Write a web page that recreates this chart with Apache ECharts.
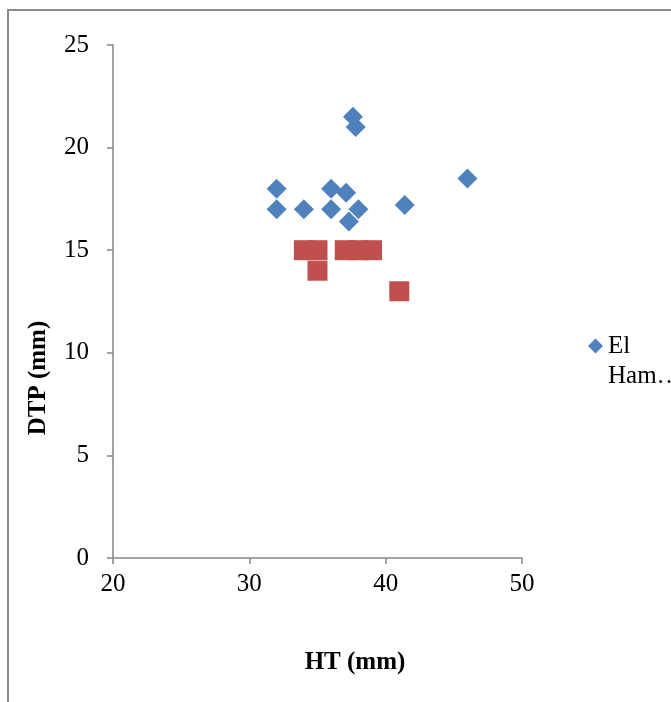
<!DOCTYPE html>
<html>
<head>
<meta charset="utf-8">
<script src="https://cdn.jsdelivr.net/npm/echarts@6/dist/echarts.min.js"></script>
<style>
html,body{margin:0;padding:0;background:#fff;overflow:hidden;}
#frame{position:absolute;left:7px;top:9px;width:700px;height:720px;border-left:2px solid #8c8c8c;border-top:2px solid #8c8c8c;}
#chart{position:absolute;left:0;top:0;width:671px;height:702px;}
</style>
</head>
<body>
<div id="frame"></div>
<div id="chart"></div>
<script>
const xTicks = [20, 30, 40, 50];
const yTicks = [0, 5, 10, 15, 20, 25];
const blueName = "El\nHam…";
const blueHT  = [32, 32, 34, 36, 36, 37.1, 38, 37.3, 37.6, 37.8, 41.4, 46];
const blueDTP = [18, 17, 17, 18, 17, 17.8, 17, 16.4, 21.5, 21, 17.2, 18.5];
const redName = "Series2";
const redHT  = [34, 35, 35, 37, 38, 39, 41];
const redDTP = [15, 15, 14, 15, 15, 15, 13];

const blueData = blueHT.map((v, i) => [v, blueDTP[i]]);
const redData = redHT.map((v, i) => [v, redDTP[i]]);

const font = "'Liberation Serif','Times New Roman',serif";
const axisColor = '#868686';

const chart = echarts.init(document.getElementById('chart'));
chart.setOption({
  animation: false,
  textStyle: {fontFamily: font},
  grid: {left: 113, right: 149, top: 45, bottom: 144},
  xAxis: {
    type: 'value', min: xTicks[0], max: xTicks[xTicks.length-1], interval: 10,
    axisLine: {show: true, lineStyle: {color: axisColor, width: 1.5}},
    axisTick: {show: true, length: 6, lineStyle: {color: axisColor, width: 1.5}},
    axisLabel: {fontSize: 25, color: '#000', fontFamily: font, margin: 14},
    splitLine: {show: false}
  },
  yAxis: {
    type: 'value', min: yTicks[0], max: yTicks[yTicks.length-1], interval: 5,
    axisLine: {show: true, lineStyle: {color: axisColor, width: 1.5}},
    axisTick: {show: true, length: 6, lineStyle: {color: axisColor, width: 1.5}},
    axisLabel: {fontSize: 25, color: '#000', fontFamily: font, margin: 24},
    splitLine: {show: false}
  },
  legend: {
    data: [{name: blueName, icon: 'path://M5,0L5,0M5,5L10,10L5,15L0,10ZM5,40L5,40'}],
    left: 588, top: 331, padding: 0,
    orient: 'vertical',
    itemWidth: 15, itemHeight: 60, itemGap: 4,
    textStyle: {fontSize: 25, color: '#000', fontFamily: font, lineHeight: 30}
  },
  graphic: [
    {type: 'text', x: 355, y: 663, style: {text: 'HT (mm)', font: "bold 25px 'Liberation Serif', serif", fill: '#000', textAlign: 'center', textVerticalAlign: 'middle'}},
    {type: 'text', x: 38.5, y: 378, rotation: Math.PI/2, style: {text: 'DTP (mm)', font: "bold 25px 'Liberation Serif', serif", fill: '#000', textAlign: 'center', textVerticalAlign: 'middle'}}
  ],
  series: [
    {name: blueName, type: 'scatter', symbol: 'diamond', symbolSize: 20, data: blueData,
     itemStyle: {color: '#4F81BD', opacity: 1}},
    {name: redName, type: 'scatter', symbol: 'rect', symbolSize: 20, data: redData,
     itemStyle: {color: '#C0504D', opacity: 1}}
  ]
});
</script>
</body>
</html>
